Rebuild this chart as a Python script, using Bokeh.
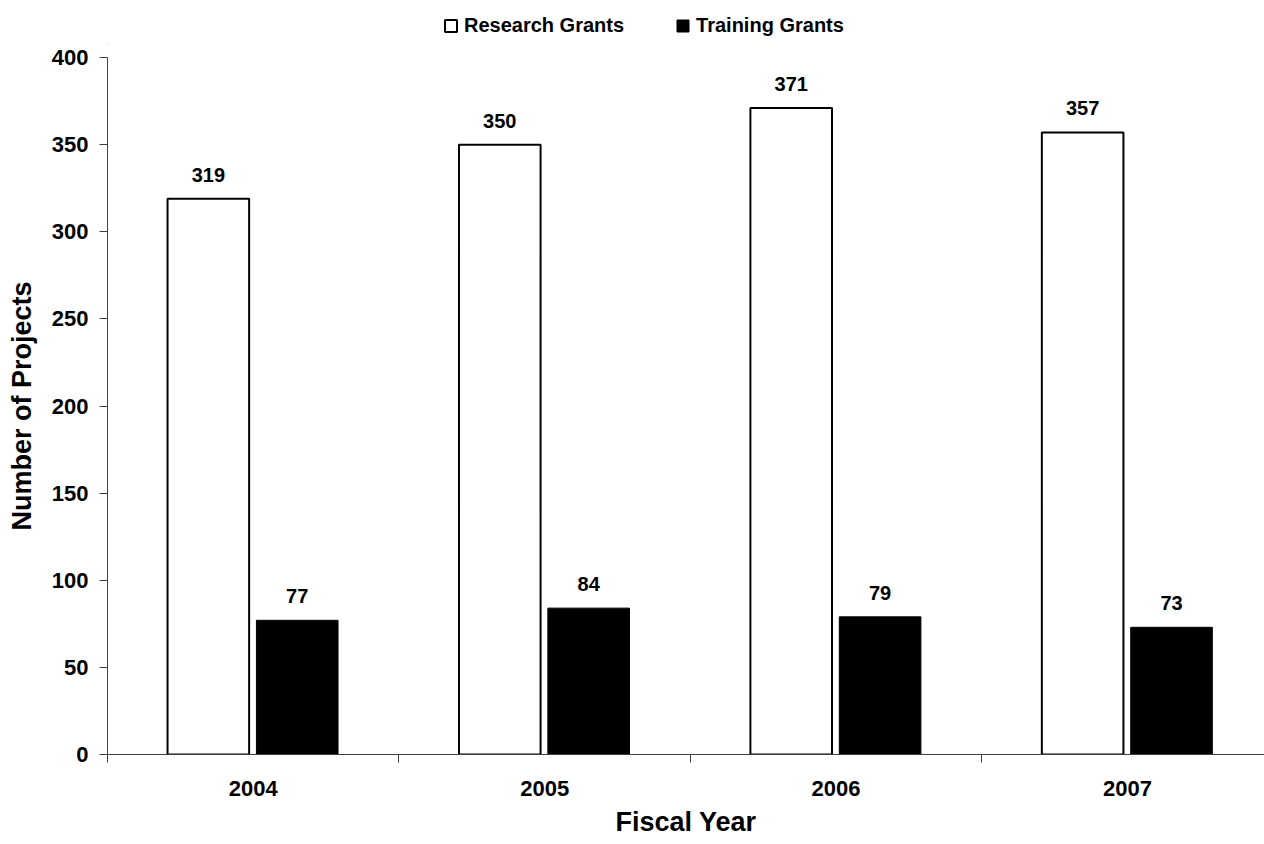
from bokeh.plotting import figure
from bokeh.layouts import column
from bokeh.models import (ColumnDataSource, Range1d, FixedTicker, LinearAxis,
                          Legend, LegendItem)
from bokeh.transform import dodge
from bokeh.core.properties import value
from bokeh.embed import file_html
from bokeh.resources import INLINE

# ---- data ----
years = ["2004", "2005", "2006", "2007"]
research = [319, 350, 371, 357]
training = [77, 84, 79, 73]
series_names = ["Research Grants", "Training Grants"]
y_ticks = [0, 50, 100, 150, 200, 250, 300, 350, 400]

FONT = "Liberation Sans"
W, H_TOP, H_MAIN = 1264, 45, 799

# ---------------- legend strip ----------------
top = figure(width=W, height=H_TOP, x_range=Range1d(0, 1), y_range=Range1d(0, 1),
             output_backend="svg", toolbar_location=None, min_border=0,
             x_axis_location=None, y_axis_location=None)
top.outline_line_color = None
top.xgrid.visible = False
top.ygrid.visible = False
# off-screen swatch sources (only used to style the legend keys)
swatch = ColumnDataSource(dict(x=[-10.0], top=[0.0]))
lr = top.vbar(x="x", top="top", width=0.1, source=swatch,
              fill_color="white", line_color="black", line_width=2)
lt = top.vbar(x="x", top="top", width=0.1, source=swatch,
              fill_color="black", line_color="black", line_width=1)
legend = Legend(items=[LegendItem(label=series_names[0], renderers=[lr]),
                       LegendItem(label=series_names[1], renderers=[lt])],
                orientation="horizontal", location=(336, 8),
                glyph_width=15, glyph_height=15, label_standoff=6,
                spacing=51, padding=0, margin=0,
                border_line_color=None, background_fill_alpha=0,
                label_text_font=FONT, label_text_font_style="bold",
                label_text_font_size="20px", label_text_color="black")
top.add_layout(legend, "center")

# ---------------- main chart ----------------
centers = [i + 0.5 for i in range(len(years))]
src = ColumnDataSource(dict(
    xc=centers,
    research=research,
    training=training,
    rlab=[str(v) for v in research],
    tlab=[str(v) for v in training],
))

p = figure(width=W, height=H_MAIN,
           x_range=Range1d(0, 3.97), y_range=Range1d(0, 400),
           output_backend="svg", toolbar_location=None,
           min_border_left=107, min_border_right=0,
           min_border_top=12, min_border_bottom=90)
p.outline_line_color = None
p.xgrid.visible = False
p.ygrid.visible = False
p.background_fill_color = "white"
p.border_fill_color = "white"

rx = dodge("xc", -0.154, range=p.x_range)
tx = dodge("xc", 0.151, range=p.x_range)

p.vbar(x=rx, top="research", width=0.28, bottom=0, source=src,
       fill_color="white", line_color="black", line_width=2)
p.vbar(x=tx, top="training", width=0.28, bottom=0, source=src,
       fill_color="black", line_color="black", line_width=1)

for xx, col, ycol in ((rx, "rlab", "research"), (tx, "tlab", "training")):
    p.text(x=xx, y=ycol, text=col, source=src,
           text_font=value(FONT), text_font_style="bold",
           text_font_size="20px", text_color="black",
           text_align="center", text_baseline="alphabetic", y_offset=-24)

# ---- y axis ----
ya = p.yaxis[0]
ya.ticker = FixedTicker(ticks=y_ticks)
ya.minor_tick_line_color = None
ya.major_tick_out = 8
ya.major_tick_in = 0
ya.major_label_standoff = 11
ya.axis_line_color = "#404040"
ya.major_tick_line_color = "#404040"
ya.major_label_text_font = FONT
ya.major_label_text_font_style = "bold"
ya.major_label_text_font_size = "22px"
ya.major_label_text_color = "black"
ya.axis_label = "Number of Projects"
ya.axis_label_text_font = FONT
ya.axis_label_text_font_style = "bold"
ya.axis_label_text_font_size = "27px"
ya.axis_label_text_color = "black"
ya.axis_label_standoff = 12

# ---- x axis: boundary ticks ----
xa = p.xaxis[0]
xa.ticker = FixedTicker(ticks=[float(i) for i in range(len(years))])
xa.major_label_overrides = {float(i): "" for i in range(len(years))}
xa.major_label_text_font_size = "0px"
xa.major_label_standoff = 0
xa.major_tick_out = 8
xa.major_tick_in = 0
xa.minor_tick_line_color = None
xa.minor_tick_out = 0
xa.axis_line_color = "#404040"
xa.major_tick_line_color = "#404040"

# ---- x axis: year labels ----
xb = LinearAxis(ticker=FixedTicker(ticks=centers),
                major_label_overrides={c: y for c, y in zip(centers, years)})
xb.axis_line_color = None
xb.major_tick_line_color = None
xb.minor_tick_line_color = None
xb.major_tick_out = 0
xb.major_tick_in = 0
xb.minor_tick_out = 0
xb.minor_tick_in = 0
xb.major_label_standoff = 18
xb.major_label_text_font = FONT
xb.major_label_text_font_style = "bold"
xb.major_label_text_font_size = "22px"
xb.major_label_text_color = "black"
xb.axis_label = "Fiscal Year"
xb.axis_label_text_font = FONT
xb.axis_label_text_font_style = "bold"
xb.axis_label_text_font_size = "27px"
xb.axis_label_text_color = "black"
xb.axis_label_standoff = 8
p.add_layout(xb, "below")

layout = column(top, p, spacing=0)
open("out.html", "w").write(file_html(layout, INLINE))
